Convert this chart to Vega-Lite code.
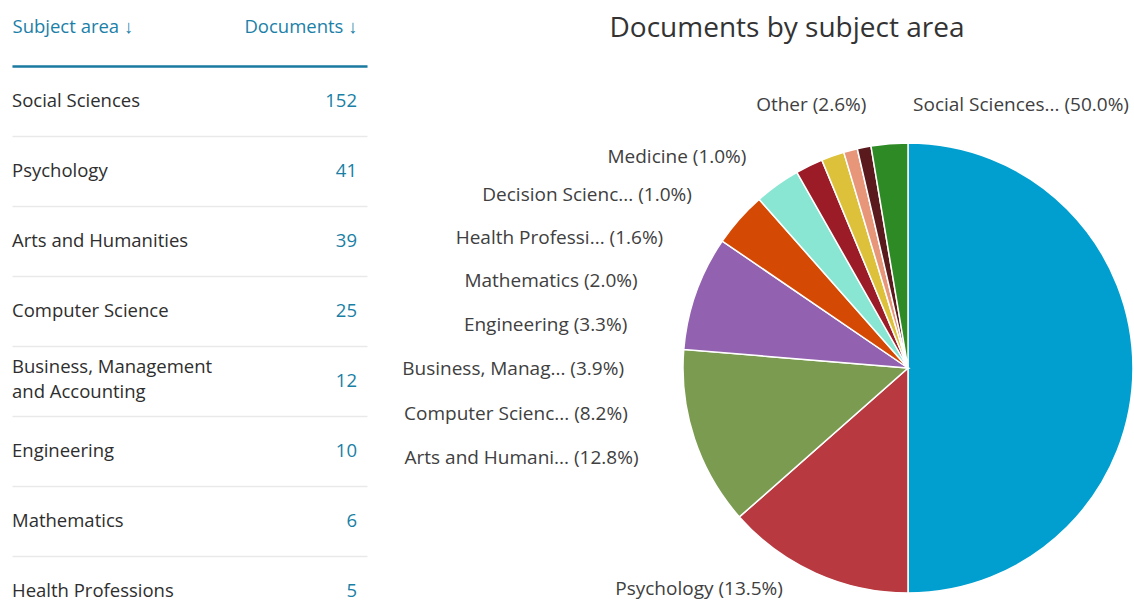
{
  "$schema": "https://vega.github.io/schema/vega-lite/v6.json",
  "background": "white",
  "padding": {"left": 12, "top": 15, "right": 0, "bottom": 0},
  "bounds": "flush",
  "spacing": 316,
  "config": {"view": {"stroke": null}, "font": "Open Sans", "text": {"font": "Open Sans"}},
  "datasets": {
    "subjects": [
      {"subject": "Social Sciences", "name": "Social Sciences", "docs": 152, "label": "Social Sciences... (50.0%)", "rank": 1},
      {"subject": "Psychology", "name": "Psychology", "docs": 41, "label": "Psychology (13.5%)", "rank": 2},
      {"subject": "Arts and Humanities", "name": "Arts and Humanities", "docs": 39, "label": "Arts and Humani... (12.8%)", "rank": 3},
      {"subject": "Computer Science", "name": "Computer Science", "docs": 25, "label": "Computer Scienc... (8.2%)", "rank": 4},
      {"subject": "Business, Management and Accounting", "name": ["Business, Management", "and Accounting"], "docs": 12, "label": "Business, Manag... (3.9%)", "rank": 5},
      {"subject": "Engineering", "name": "Engineering", "docs": 10, "label": "Engineering (3.3%)", "rank": 6},
      {"subject": "Mathematics", "name": "Mathematics", "docs": 6, "label": "Mathematics (2.0%)", "rank": 7},
      {"subject": "Health Professions", "name": "Health Professions", "docs": 5, "label": "Health Professi... (1.6%)", "rank": 8},
      {"subject": "Decision Sciences", "name": "Decision Sciences", "docs": 3, "label": "Decision Scienc... (1.0%)", "rank": 9},
      {"subject": "Medicine", "name": "Medicine", "docs": 3, "label": "Medicine (1.0%)", "rank": 10},
      {"subject": "Other", "name": "Other", "docs": 8, "label": "Other (2.6%)", "rank": 11}
    ]
  },
  "hconcat": [
    {
      "width": 355,
      "height": 560,
      "data": {"name": "subjects"},
      "transform": [{"filter": "datum.rank <= 8"}],
      "encoding": {
        "y": {
          "field": "subject", "type": "nominal", "sort": null,
          "scale": {"domain": ["Social Sciences", "Psychology", "Arts and Humanities", "Computer Science", "Business, Management and Accounting", "Engineering", "Mathematics", "Health Professions"], "paddingInner": 0, "paddingOuter": 0},
          "axis": {"title": null, "labels": false, "ticks": false, "domain": false, "grid": true, "tickBand": "extent", "gridColor": "#e9e9e9", "gridWidth": 1.5}
        },
        "x": {
          "datum": "Subject area ↓", "type": "nominal",
          "scale": {"type": "point", "domain": ["Subject area ↓", "Documents ↓"], "padding": 0.0145, "align": 0},
          "axis": {"orient": "top", "title": null, "domain": true, "domainColor": "#1a7aa0", "domainWidth": 2.5, "ticks": false, "grid": false, "labelAngle": 0, "labelPadding": 34, "labelFontSize": 18.5, "labelColor": "#1b80a8", "labelBaseline": "alphabetic", "labelAlign": {"condition": {"test": "datum.value === 'Subject area ↓'", "value": "left"}, "value": "right"}, "labelFont": "Open Sans", "zindex": 1}
        }
      },
      "layer": [
        {
          "transform": [{"filter": "datum.rank != 5"}],
          "mark": {"type": "text", "align": "left", "baseline": "middle", "fontSize": 18.5, "color": "#2e2e2e"},
          "encoding": {
            "text": {"field": "name", "type": "nominal"}
          }
        },
        {
          "transform": [{"filter": "datum.rank == 5"}],
          "mark": {"type": "text", "align": "left", "baseline": "middle", "fontSize": 18.5, "color": "#2e2e2e", "lineHeight": 25, "dy": -14},
          "encoding": {
            "text": {"field": "name", "type": "nominal"}
          }
        },
        {
          "mark": {"type": "text", "align": "right", "baseline": "middle", "fontSize": 18.5, "color": "#1a7fa5"},
          "encoding": {
            "x": {"datum": "Documents ↓", "type": "nominal"},
            "text": {"field": "docs", "type": "nominal"}
          }
        }
      ]
    },
    {
      "width": 450,
      "height": 604,
      "title": {"text": "Documents by subject area", "fontSize": 28, "fontWeight": "normal", "font": "Open Sans", "color": "#333333", "anchor": "middle", "dx": -121, "baseline": "alphabetic", "offset": 1},
      "data": {"name": "subjects"},
      "layer": [
        {
          "mark": {"type": "arc", "stroke": "white", "strokeWidth": 1.5},
          "encoding": {
            "theta": {"field": "docs", "type": "quantitative", "stack": true},
            "order": {"field": "rank", "type": "quantitative"},
            "color": {
              "field": "subject", "type": "nominal", "sort": null, "legend": null,
              "scale": {
                "domain": ["Social Sciences", "Psychology", "Arts and Humanities", "Computer Science", "Business, Management and Accounting", "Engineering", "Mathematics", "Health Professions", "Decision Sciences", "Medicine", "Other"],
                "range": ["#009fcf", "#b83a40", "#7b9b50", "#9262b0", "#d44a04", "#88e6d3", "#9b1c27", "#dec13a", "#e8967a", "#5a191c", "#2d8a25"]
              }
            }
          }
        },
        {
          "transform": [{"filter": {"field": "subject", "oneOf": ["Arts and Humanities", "Computer Science", "Business, Management and Accounting", "Engineering", "Mathematics"]}}],
          "mark": {"type": "text", "radius": 284, "align": "right", "baseline": "middle", "fontSize": 19, "color": "#404040"},
          "encoding": {
            "theta": {"field": "subject", "type": "nominal", "scale": {"type": "point", "padding": 0, "domain": ["Arts and Humanities", "Computer Science", "Business, Management and Accounting", "Engineering", "Mathematics"], "range": [4.3912, 5.0231]}},
            "text": {"field": "label", "type": "nominal"}
          }
        },
        {
          "transform": [{"filter": {"field": "subject", "oneOf": ["Health Professions", "Decision Sciences"]}}],
          "mark": {"type": "text", "radius": 277, "align": "right", "baseline": "middle", "fontSize": 19, "color": "#404040"},
          "encoding": {
            "theta": {"field": "subject", "type": "nominal", "scale": {"type": "point", "padding": 0, "domain": ["Health Professions", "Decision Sciences"], "range": [5.1993, 5.3878]}},
            "text": {"field": "label", "type": "nominal"}
          }
        },
        {
          "transform": [{"filter": {"field": "subject", "oneOf": ["Medicine", "Other"]}}],
          "mark": {"type": "text", "radius": 266, "align": "right", "baseline": "middle", "fontSize": 19, "color": "#404040"},
          "encoding": {
            "theta": {"field": "subject", "type": "nominal", "scale": {"type": "point", "padding": 0, "domain": ["Medicine", "Other"], "range": [5.6304, 6.1261]}},
            "text": {"field": "label", "type": "nominal"}
          }
        },
        {
          "transform": [{"filter": {"field": "subject", "equal": "Social Sciences"}}],
          "mark": {"type": "text", "radius": 263, "align": "left", "baseline": "middle", "fontSize": 19, "color": "#404040"},
          "encoding": {
            "theta": {"field": "subject", "type": "nominal", "scale": {"type": "point", "padding": 0, "domain": ["Social Sciences"], "range": [0.0192, 0.0192]}},
            "text": {"field": "label", "type": "nominal"}
          }
        },
        {
          "transform": [{"filter": {"field": "subject", "equal": "Psychology"}}],
          "mark": {"type": "text", "radius": 254, "align": "right", "baseline": "middle", "fontSize": 19, "color": "#404040"},
          "encoding": {
            "theta": {"field": "subject", "type": "nominal", "scale": {"type": "point", "padding": 0, "domain": ["Psychology"], "range": [3.6565, 3.6565]}},
            "text": {"field": "label", "type": "nominal"}
          }
        }
      ],
      "resolve": {"scale": {"theta": "independent"}}
    }
  ]
}
